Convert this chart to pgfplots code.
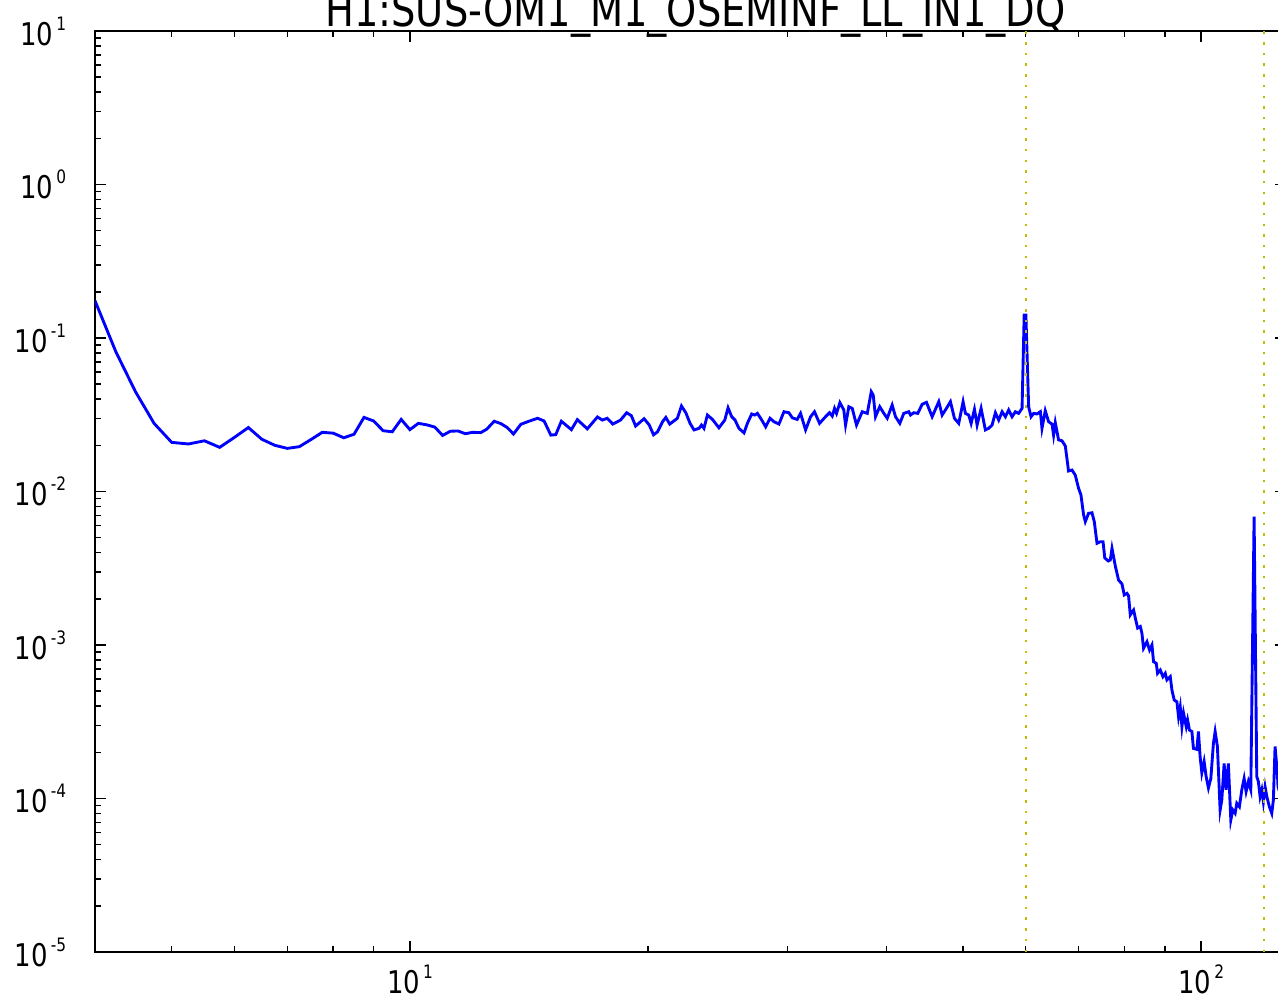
\documentclass[border=0pt]{standalone}
\usepackage{fontspec}
\setmainfont[FakeStretch=0.83]{DejaVu Sans}
\usepackage{pgfplots}
\pgfplotsset{compat=1.18}
\definecolor{mplblue}{rgb}{0,0,1}
\definecolor{mplyellow}{rgb}{0.75,0.75,0}
\newcommand{\sups}[1]{\hspace{1.2pt}\raisebox{6pt}{\fontsize{7.4}{8}\selectfont #1}}
\begin{document}
\begin{tikzpicture}
\begin{axis}[
  scale only axis, width=476.4pt, height=368.4pt,
  xmode=log, ymode=log, xmin=4, xmax=128, ymin=1e-5, ymax=10,
  axis line style={line width=0.9pt},
  tick align=inside,
  major tick length=4.4pt, minor tick length=2.4pt,
  tick style={black, line width=0.6pt},
  xtick={10,100}, xticklabels={10\sups{1},10\sups{2}},
  minor xtick={5,6,7,8,9,20,30,40,50,60,70,80,90},
  ytick={1e-5,1e-4,1e-3,1e-2,1e-1,1,10},
  yticklabels={10\sups{-5},10\sups{-4},10\sups{-3},10\sups{-2},10\sups{-1},10\sups{0},10\sups{1}},
  minor ytick={2e-5,3e-5,4e-5,5e-5,6e-5,7e-5,8e-5,9e-5,2e-4,3e-4,4e-4,5e-4,6e-4,7e-4,8e-4,9e-4,2e-3,3e-3,4e-3,5e-3,6e-3,7e-3,8e-3,9e-3,0.02,0.03,0.04,0.05,0.06,0.07,0.08,0.09,0.2,0.3,0.4,0.5,0.6,0.7,0.8,0.9,2,3,4,5,6,7,8,9},
  tick label style={font=\fontsize{12.5}{15}\selectfont},
  yticklabel style={xshift=-8pt},
  xticklabel style={yshift=-1.6pt},
  title={H1:SUS-OM1\_M1\_OSEMINF\_LL\_IN1\_DQ},
  title style={font=\fontsize{18.5}{22}\selectfont, at={(0.5,1)}, anchor=base, yshift=-4.2pt, xshift=2pt},
]
\addplot[mplblue, line width=1.15pt] coordinates {
(4.0,0.175) (4.25,0.0814) (4.5,0.0447) (4.75,0.0278) (5.0,0.0209) (5.25,0.0204)
(5.5,0.0214) (5.75,0.0194) (6.0,0.0225) (6.25,0.0261) (6.5,0.0219) (6.75,0.0200)
(7.0,0.0191) (7.25,0.0196) (7.5,0.0218) (7.75,0.0243) (8.0,0.0240) (8.25,0.0224)
(8.5,0.0236) (8.75,0.0304) (9.0,0.0288) (9.25,0.0249) (9.5,0.0245) (9.75,0.0295)
(10.0,0.0253) (10.25,0.0278) (10.5,0.0272) (10.75,0.0263) (11.0,0.0232) (11.25,0.0247)
(11.5,0.0248) (11.75,0.0238) (12.0,0.0243) (12.29,0.0242) (12.51,0.0255) (12.78,0.0287)
(13.03,0.0277) (13.26,0.0262) (13.52,0.0237) (13.81,0.0274) (14.14,0.0287) (14.50,0.0300)
(14.78,0.0288) (15.07,0.0233) (15.29,0.0235) (15.54,0.0287) (16.0,0.0253) (16.28,0.0294)
(16.76,0.0256) (17.26,0.0306) (17.51,0.0292) (17.76,0.0300) (18.05,0.0275) (18.46,0.0292)
(18.79,0.0326) (19.05,0.0312) (19.29,0.0267) (19.77,0.0298) (20.07,0.0271) (20.32,0.0234)
(20.56,0.0245) (20.86,0.0285) (21.06,0.0304) (21.30,0.0275) (21.78,0.0300) (22.04,0.0361)
(22.32,0.0326) (22.60,0.0278) (22.86,0.0252) (23.20,0.0258) (23.36,0.0271) (23.53,0.0258)
(23.77,0.0315) (24.12,0.0295) (24.58,0.0260) (25.00,0.0292) (25.24,0.0351) (25.51,0.0307)
(25.76,0.0292) (26.05,0.0258) (26.44,0.0241) (26.70,0.0278) (27.04,0.0320) (27.28,0.0315)
(27.49,0.0323) (27.81,0.0295) (28.16,0.0264) (28.52,0.0300) (28.85,0.0285) (29.27,0.0275)
(29.70,0.0331) (30.13,0.0326) (30.43,0.0302) (30.87,0.0295) (31.17,0.0323) (31.63,0.0252)
(32.09,0.0307) (32.46,0.0331) (32.94,0.0278) (33.52,0.0307) (33.91,0.0326) (34.18,0.0310)
(34.41,0.0348) (34.61,0.0323) (34.95,0.0379) (35.35,0.0340) (35.53,0.0271) (35.87,0.0357)
(36.23,0.0348) (36.68,0.0271) (37.30,0.0331) (37.85,0.0323) (38.29,0.0447) (38.51,0.0425)
(38.77,0.0307) (39.25,0.0357) (39.72,0.0323) (40.11,0.0300) (40.69,0.0366) (41.09,0.0307)
(41.61,0.0278) (42.09,0.0323) (42.71,0.0331) (42.92,0.0315) (43.33,0.0326) (43.84,0.0323)
(44.40,0.0370) (44.96,0.0381) (45.71,0.0307) (46.60,0.0385) (47.06,0.0315) (47.65,0.0348)
(48.21,0.0385) (48.77,0.0300) (49.39,0.0278) (50.02,0.0385) (50.36,0.0323) (50.84,0.0315)
(51.20,0.0278) (51.70,0.0343) (52.10,0.0271) (52.71,0.0348) (53.37,0.0252) (53.88,0.0258)
(54.42,0.0271) (54.95,0.0326) (55.48,0.0292) (56.03,0.0331) (56.57,0.0307) (57.11,0.0340)
(57.68,0.0307) (58.24,0.0331) (58.79,0.0323) (59.38,0.0348) (59.75,0.141) (60.05,0.141)
(60.53,0.0357) (60.96,0.0307) (61.42,0.0323) (62.02,0.0320) (62.63,0.0331) (62.93,0.0258)
(63.53,0.0336) (64.15,0.0285) (64.79,0.0275) (65.09,0.0233) (65.41,0.0281) (66.04,0.0217)
(66.70,0.0214) (67.35,0.0198) (67.99,0.0136) (68.67,0.0138) (69.33,0.0128) (70.00,0.0105)
(70.49,0.00949) (71.03,0.00703) (71.38,0.00636) (72.06,0.00721) (72.78,0.00727) (73.28,0.00636)
(73.86,0.00460) (74.57,0.00471) (75.16,0.00471) (75.55,0.00369) (76.32,0.00353) (76.77,0.00358)
(77.15,0.00426) (77.90,0.00327) (78.64,0.00265) (79.43,0.00250) (79.96,0.00212) (80.58,0.00217)
(80.96,0.00209) (81.36,0.00157) (82.15,0.00169) (82.56,0.00150) (83.12,0.00129) (83.77,0.00132)
(84.17,0.00119) (84.56,0.000952) (85.41,0.00105) (86.05,0.000928) (86.66,0.00100) (87.06,0.000779)
(87.75,0.000760) (88.08,0.000654) (88.78,0.000687) (89.47,0.000622) (90.08,0.000654) (90.52,0.000592)
(91.40,0.000622) (91.84,0.000509) (92.46,0.000438) (93.18,0.000427) (93.62,0.000341) (94.09,0.000396)
(94.55,0.000294) (95.00,0.000359) (95.74,0.000294) (96.12,0.000325) (96.66,0.000279) (97.34,0.000273)
(97.78,0.000212) (98.75,0.000209) (99.21,0.000273) (99.70,0.000187) (100.19,0.000147) (100.86,0.000174)
(101.45,0.000139) (102.13,0.000117) (102.85,0.000135) (103.63,0.000229) (104.15,0.000273) (104.84,0.000218)
(105.67,0.0000842) (106.19,0.0000978) (106.91,0.000169) (107.53,0.000114) (108.24,0.000169) (109.01,0.0000725)
(109.64,0.0000842) (110.38,0.0000801) (110.92,0.0000931) (111.76,0.0000884) (112.55,0.000114) (113.31,0.000135)
(113.97,0.000111) (114.73,0.000129) (115.53,0.000114) (116.65,0.00685) (117.56,0.000139) (118.11,0.000129)
(118.70,0.000103) (119.29,0.000114) (119.84,0.0000953) (120.44,0.000119) (121.04,0.000103) (121.95,0.0000884)
(122.80,0.0000801) (123.38,0.0000978) (123.99,0.000218) (124.82,0.000146) (125.07,0.000119) (126.0,0.000105)
(127.0,0.000098) (128.0,0.000110)
};
\addplot[mplyellow, line width=0.9pt, dash pattern=on 1pt off 3.27pt] coordinates {(60,1e-5) (60,10)};
\addplot[mplyellow, line width=0.9pt, dash pattern=on 1pt off 3.27pt] coordinates {(120,1e-5) (120,10)};
\coordinate (sw) at (rel axis cs:0,0);
\coordinate (ne) at (rel axis cs:1,1);
\end{axis}
\pgfresetboundingbox
\useasboundingbox ([xshift=-38pt,yshift=-18.8pt]sw) rectangle ([xshift=-3.2pt,yshift=12.4pt]ne);
\end{tikzpicture}
\end{document}
